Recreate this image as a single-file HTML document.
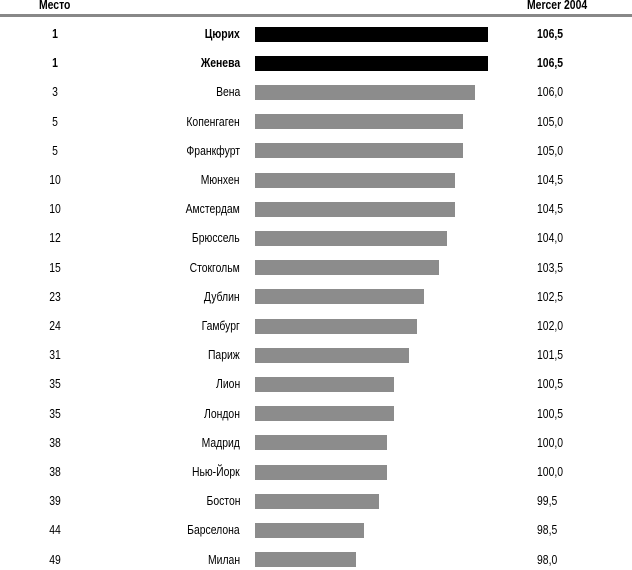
<!DOCTYPE html>
<html><head><meta charset="utf-8"><style>
body{margin:0;background:#fff;width:632px;height:570px;position:relative;overflow:hidden;font-family:"Liberation Sans",sans-serif;}
.t{position:absolute;font-size:13px;line-height:14px;white-space:nowrap;transform:scaleX(0.8);color:#000}
.r{transform-origin:right center;text-align:right}
.l{transform-origin:left center}
.c{transform-origin:center center;text-align:center;width:40px}
.b{position:absolute;left:255px;height:15px;background:#8c8c8c}
.k{background:#000}
.bold{font-weight:bold}
</style></head><body>
<div class="t l bold" style="left:39px;top:-2px">Место</div>
<div class="t l bold" style="left:527px;top:-2px">Mercer 2004</div>
<div style="position:absolute;left:0;top:14px;width:632px;height:3px;background:#888"></div>
<div id="rows"></div>
<script>
var d=[["1","Цюрих",106.5,488,1],["1","Женева",106.5,488,1],["3","Вена",106.0,475],["5","Копенгаген",105.0,463],["5","Франкфурт",105.0,463],["10","Мюнхен",104.5,455],["10","Амстердам",104.5,455],["12","Брюссель",104.0,447],["15","Стокгольм",103.5,439],["23","Дублин",102.5,424],["24","Гамбург",102.0,417],["31","Париж",101.5,409],["35","Лион",100.5,394],["35","Лондон",100.5,394],["38","Мадрид",100.0,387],["38","Нью-Йорк",100.0,387],["39","Бостон",99.5,379],["44","Барселона",98.5,364],["49","Милан",98.0,356]];
var h="";
d.forEach(function(r,i){var y=34+i*29.2;var bo=r[4]?" bold":"";
var w=r[3]-255;
h+='<div class="t c'+bo+'" style="left:35px;top:'+(y-7)+'px">'+r[0]+'</div>';
h+='<div class="t r'+bo+'" style="right:392px;top:'+(y-7)+'px">'+r[1]+'</div>';
h+='<div class="b'+(r[4]?' k':'')+'" style="top:'+(y-7.5)+'px;width:'+w+'px"></div>';
h+='<div class="t l'+bo+'" style="left:537px;top:'+(y-7)+'px">'+r[2].toFixed(1).replace(".",",")+'</div>';});
document.getElementById("rows").innerHTML=h;
</script>
</body></html>
